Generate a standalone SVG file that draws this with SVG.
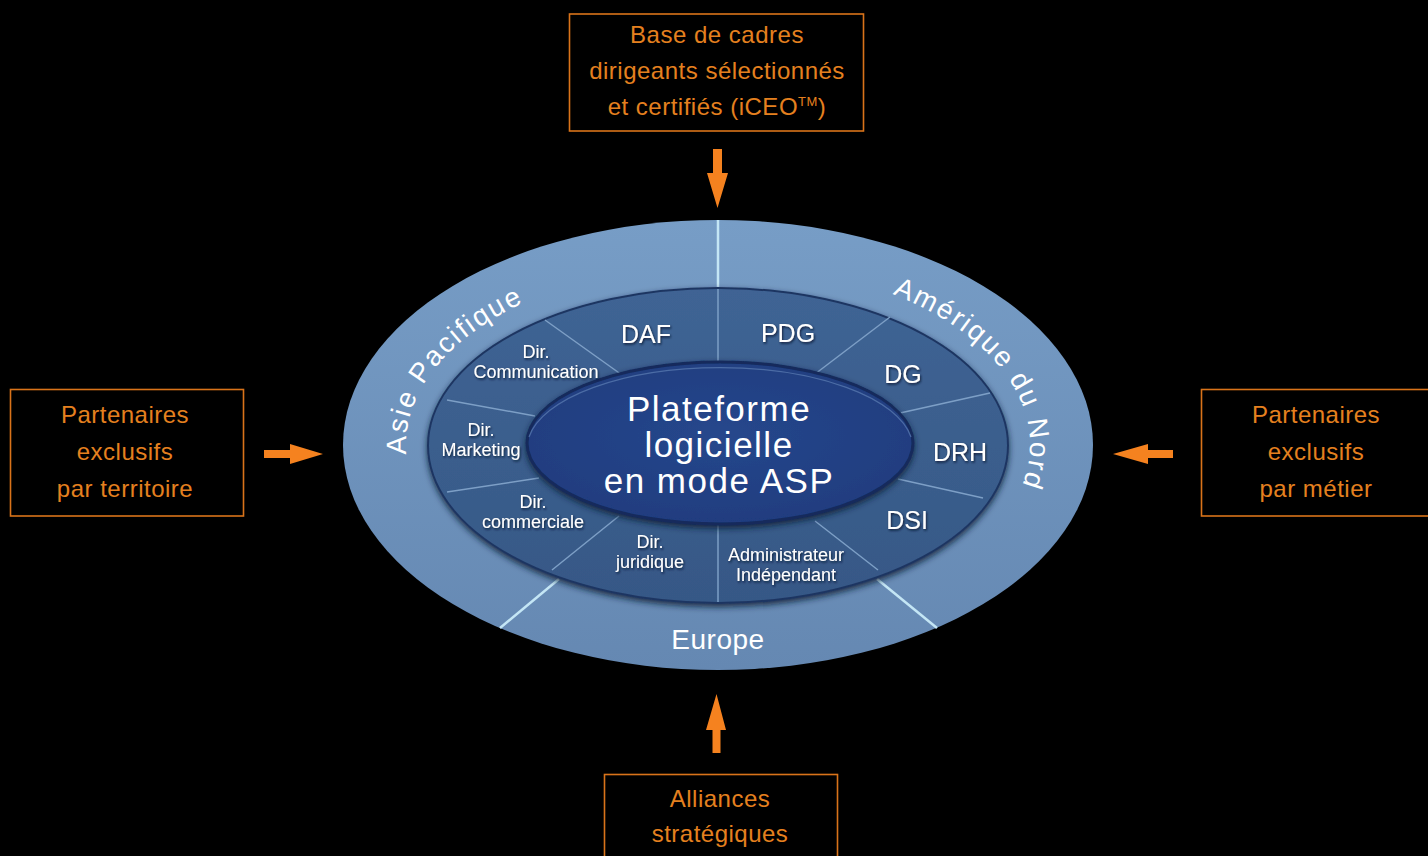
<svg xmlns="http://www.w3.org/2000/svg" width="1428" height="856" viewBox="0 0 1428 856">
<defs>
  <linearGradient id="gOuter" x1="0" y1="0" x2="0" y2="1">
    <stop offset="0" stop-color="#779dc6"/>
    <stop offset="1" stop-color="#6588b2"/>
  </linearGradient>
  <linearGradient id="gMid" x1="0" y1="0" x2="0" y2="1">
    <stop offset="0" stop-color="#3f6494"/>
    <stop offset="1" stop-color="#365886"/>
  </linearGradient>
  <radialGradient id="gInner" cx="0.5" cy="0.45" r="0.6">
    <stop offset="0" stop-color="#26478c"/>
    <stop offset="1" stop-color="#1f3c7e"/>
  </radialGradient>
  <filter id="shadow" x="-10%" y="-10%" width="120%" height="125%">
    <feDropShadow dx="0" dy="3" stdDeviation="3" flood-color="#0b1a36" flood-opacity="0.85"/>
  </filter>
  <filter id="tshadow" x="-10%" y="-30%" width="120%" height="160%">
    <feDropShadow dx="1" dy="1.5" stdDeviation="1" flood-color="#0a1630" flood-opacity="0.9"/>
  </filter>
  <path id="pAsie" d="M406.4,454.5 A312,182 0 0 1 718,263"/>
  <path id="pAmer" d="M892.4,294.1 A312,182 0 0 1 957,562"/>
  <style>
    .box { fill: none; stroke: #d9731a; stroke-width: 1.6; }
    .otxt { fill: #e5801f; font-family: "Liberation Sans", Arial, sans-serif; font-size: 24px; letter-spacing: 0.5px; text-anchor: middle; }
    .arrow { fill: #f5821f; }
    .region { stroke: #c4e6f5; stroke-width: 2.5; }
    .div { stroke: #7d9fc6; stroke-width: 1.5; }
    .dept { fill: #ffffff; font-family: "Liberation Sans", Arial, sans-serif; text-anchor: middle; filter: url(#tshadow); }
    .big { font-size: 25px; }
    .small { font-size: 18px; }
    .ring { fill: #ffffff; font-family: "Liberation Sans", Arial, sans-serif; font-size: 28px; letter-spacing: 2px; }
    .center { fill: #ffffff; font-family: "Liberation Sans", Arial, sans-serif; font-size: 35px; letter-spacing: 1.5px; text-anchor: middle; }
  </style>
</defs>
<rect width="1428" height="856" fill="#000000"/>

<g id="ellipse-diagram">
  <ellipse cx="718" cy="445" rx="375" ry="225" fill="url(#gOuter)"/>
  <g id="region-dividers">
    <line class="region" x1="718" y1="220" x2="718" y2="290"/>
    <line class="region" x1="500" y1="628" x2="559" y2="579"/>
    <line class="region" x1="937" y1="628" x2="877" y2="579"/>
  </g>
  <ellipse cx="718" cy="445.5" rx="290" ry="157.5" fill="url(#gMid)" stroke="#1f3662" stroke-width="2" filter="url(#shadow)"/>
  <g id="dept-dividers">
    <line class="div" x1="718" y1="289" x2="718" y2="365"/>
    <line class="div" x1="890" y1="317" x2="815" y2="374"/>
    <line class="div" x1="990" y1="393" x2="900" y2="413"/>
    <line class="div" x1="983" y1="498" x2="898" y2="479"/>
    <line class="div" x1="878" y1="570" x2="815" y2="521"/>
    <line class="div" x1="718" y1="522" x2="718" y2="602"/>
    <line class="div" x1="619" y1="516" x2="552" y2="570"/>
    <line class="div" x1="539" y1="478" x2="447" y2="492"/>
    <line class="div" x1="447" y1="400" x2="535" y2="416"/>
    <line class="div" x1="545" y1="320" x2="622" y2="375"/>
  </g>
  <ellipse cx="720" cy="443" rx="193" ry="81" fill="url(#gInner)" stroke="#142a5c" stroke-width="3" filter="url(#shadow)"/>
  <path d="M529,437 A193,81 0 0 1 911,437" fill="none" stroke="#5677ae" stroke-width="1.2" opacity="0.8"/>
</g>

<g id="platform">
  <text class="center" x="719" y="421">Plateforme</text>
  <text class="center" x="719" y="457">logicielle</text>
  <text class="center" x="719" y="493">en mode ASP</text>
</g>

<g id="regions">
  <text class="ring"><textPath href="#pAsie">Asie Pacifique</textPath></text>
  <text class="ring"><textPath href="#pAmer">Amérique du Nord</textPath></text>
  <text class="ring" x="718" y="649" text-anchor="middle" style="letter-spacing:0.5px">Europe</text>
</g>

<g id="departments">
  <g id="dept-daf"><text class="dept big" x="646" y="343">DAF</text></g>
  <g id="dept-pdg"><text class="dept big" x="788" y="342">PDG</text></g>
  <g id="dept-dg"><text class="dept big" x="903" y="383">DG</text></g>
  <g id="dept-drh"><text class="dept big" x="960" y="461">DRH</text></g>
  <g id="dept-dsi"><text class="dept big" x="907" y="529">DSI</text></g>
  <g id="dept-admin"><text class="dept small" x="786" y="561"><tspan x="786">Administrateur</tspan><tspan x="786" dy="20">Indépendant</tspan></text></g>
  <g id="dept-jur"><text class="dept small" x="650" y="548"><tspan x="650">Dir.</tspan><tspan x="650" dy="20">juridique</tspan></text></g>
  <g id="dept-com"><text class="dept small" x="533" y="508"><tspan x="533">Dir.</tspan><tspan x="533" dy="20">commerciale</tspan></text></g>
  <g id="dept-mkt"><text class="dept small" x="481" y="436"><tspan x="481">Dir.</tspan><tspan x="481" dy="20">Marketing</tspan></text></g>
  <g id="dept-comm"><text class="dept small" x="536" y="358"><tspan x="536">Dir.</tspan><tspan x="536" dy="20">Communication</tspan></text></g>
</g>

<g id="box-top">
  <rect class="box" x="569.5" y="14" width="294" height="117"/>
  <text class="otxt" x="717" y="43">Base de cadres</text>
  <text class="otxt" x="717" y="79">dirigeants sélectionnés</text>
  <text class="otxt" x="717" y="115">et certifiés (iCEO<tspan font-size="13" dy="-9">TM</tspan><tspan dy="9">)</tspan></text>
</g>
<g id="box-left">
  <rect class="box" x="10.5" y="389.5" width="233" height="126.5"/>
  <text class="otxt" x="125" y="423">Partenaires</text>
  <text class="otxt" x="125" y="460">exclusifs</text>
  <text class="otxt" x="125" y="497">par territoire</text>
</g>
<g id="box-right">
  <rect class="box" x="1201.5" y="389.5" width="233" height="126.5"/>
  <text class="otxt" x="1316" y="423">Partenaires</text>
  <text class="otxt" x="1316" y="460">exclusifs</text>
  <text class="otxt" x="1316" y="497">par métier</text>
</g>
<g id="box-bottom">
  <rect class="box" x="604.5" y="774.5" width="233" height="100"/>
  <text class="otxt" x="720" y="807">Alliances</text>
  <text class="otxt" x="720" y="842">stratégiques</text>
</g>

<g id="connectors">
  <polygon class="arrow" points="713,149 722,149 722,173 728,173 717.5,208 707,173 713,173"/>
  <polygon class="arrow" points="264,450 290,450 290,444 323,454 290,464 290,458 264,458"/>
  <polygon class="arrow" points="1173,450 1148,450 1148,444 1113,454 1148,464 1148,458 1173,458"/>
  <polygon class="arrow" points="712.5,753 720.5,753 720.5,730 726,730 716.5,694 706,730 712.5,730"/>
</g>
</svg>
